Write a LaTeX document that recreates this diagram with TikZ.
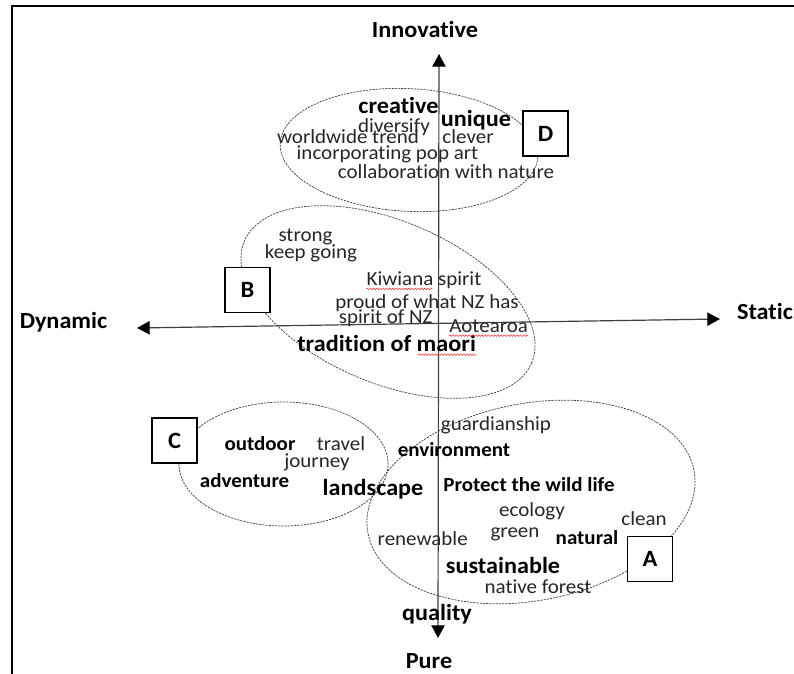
\documentclass[tikz,border=0pt]{standalone}
\usepackage{fontspec}
\setmainfont{Carlito}[FakeStretch=1.05,Ligatures=NoCommon]
\usetikzlibrary{arrows.meta,decorations.pathmorphing}
\definecolor{txt}{HTML}{262626}
\definecolor{axc}{HTML}{404040}
\definecolor{elc}{HTML}{404040}
\begin{document}
\begin{tikzpicture}[x=0.75pt,y=-0.75pt,
  reg/.style={font=\fontsize{15}{17}\selectfont, text=txt, anchor=base, inner sep=0pt},
  bsm/.style={font=\fontsize{15}{17}\selectfont\bfseries, anchor=base, inner sep=0pt},
  blg/.style={font=\fontsize{17.3}{19}\selectfont\bfseries, anchor=base, inner sep=0pt},
  ell/.style={draw=elc, line width=0.55pt, dash pattern=on 1.6pt off 0.8pt},
  axis/.style={draw=axc, line width=0.9pt, {Triangle[length=9.5pt,width=10pt,color=black]}-{Triangle[length=9.5pt,width=10pt,color=black]}},
  box/.style={draw, fill=white, line width=1pt, minimum size=33.75pt, inner sep=0pt, font=\fontsize{17.5}{19}\selectfont\bfseries},
  squig/.style={draw=red!75, line width=0.45pt, decorate, decoration={snake, amplitude=0.6pt, segment length=2.4pt}}
]
\useasboundingbox (0,0) rectangle (794,674);
% frame
\draw[line width=1.8pt, line join=miter] (12,676) -- (12,6.3) -- (796,6.3);
% axes
\coordinate (vtop) at (439,54);
\coordinate (vbot) at (438,638);
\coordinate (hl) at (137,328);
\coordinate (hr) at (720,319);
\draw[axis] (vbot) -- (vtop);
\draw[axis] (hl) -- (hr);
% ellipses
\draw[ell, rotate around={-3:(409,150)}] (409,150) ellipse [x radius=96.75pt, y radius=46pt];
\draw[ell, rotate around={-23:(388,302)}] (388,302) ellipse [x radius=117pt, y radius=60.75pt];
\draw[ell] (283.5,464) ellipse [x radius=78.4pt, y radius=46.5pt];
\draw[ell, rotate around={11:(531,502)}] (531,502) ellipse [x radius=124.5pt, y radius=73.9pt];
% boxes
\node[box] (bD) at (545.5,133.5) {D};
\node[box] (bB) at (247.5,290) {B};
\node[box] (bC) at (174.5,440.5) {C};
\node[box] (bA) at (650,559) {A};
% axis labels
\node[blg] (tInn) at (425,37.7) {Innovative};
\node[blg] (tDyn) at (63.5,329) {Dynamic};
\node[blg] (tSta) at (765,320) {Static};
\node[blg] (tPure) at (429,668) {Pure};
% D group
\node[blg] (tCre) at (398.5,113.3) {creative};
\node[blg] (tUni) at (476,126.7) {unique};
\node[reg] (tDiv) at (394,132.7) {diversify};
\node[reg] (tWor) at (348,144) {worldwide trend};
\node[reg] (tCle) at (468,143.3) {clever};
\node[reg] (tInc) at (387.5,159.3) {incorporating pop art};
\node[reg] (tCol) at (446,178.3) {collaboration with nature};
% B group
\node[reg] (tStr) at (305.5,241.7) {strong};
\node[reg] (tKee) at (311,258.3) {keep going};
\node[reg] (tKiw) at (424,286) {Kiwiana spirit};
\node[reg] (tPro) at (427,308.3) {proud of what NZ has};
\node[reg] (tSpi) at (385.7,324) {spirit of NZ};
\node[reg] (tAot) at (488.6,332.7) {Aotearoa};
\node[blg] (tTra) at (386.6,351.7) {tradition of maori};
% C group
\node[bsm] (tOut) at (260,450.7) {outdoor};
\node[reg] (tTrv) at (341,450) {travel};
\node[reg] (tJou) at (317,467) {journey};
\node[bsm] (tAdv) at (244.6,487.3) {adventure};
\node[blg] (tLan) at (373,495) {landscape};
% A group
\node[reg] (tGua) at (496,430) {guardianship};
\node[bsm] (tEnv) at (454,456.7) {environment};
\node[bsm] (tPwl) at (529,491) {Protect the wild life};
\node[reg] (tEco) at (532,516.7) {ecology};
\node[reg] (tCln) at (644,525) {clean};
\node[reg] (tGre) at (515,537.7) {green};
\node[bsm] (tNat) at (587,544.3) {natural};
\node[reg] (tRen) at (422.7,545.7) {renewable};
\node[blg] (tSus) at (503,573.3) {sustainable};
\node[reg] (tNfo) at (538,593.3) {native forest};
\node[blg] (tQua) at (437,620) {quality};
% spell-check underlines
\draw[squig] ([yshift=-2.2pt]tKiw.base west) -- ++(49.5pt,0);
\draw[squig] ([yshift=-2.2pt]tAot.base west) -- ([yshift=-2.2pt]tAot.base east);
\draw[squig] ([yshift=-2.2pt]tTra.base east) -- ++(-44pt,0);
\end{tikzpicture}
\end{document}
